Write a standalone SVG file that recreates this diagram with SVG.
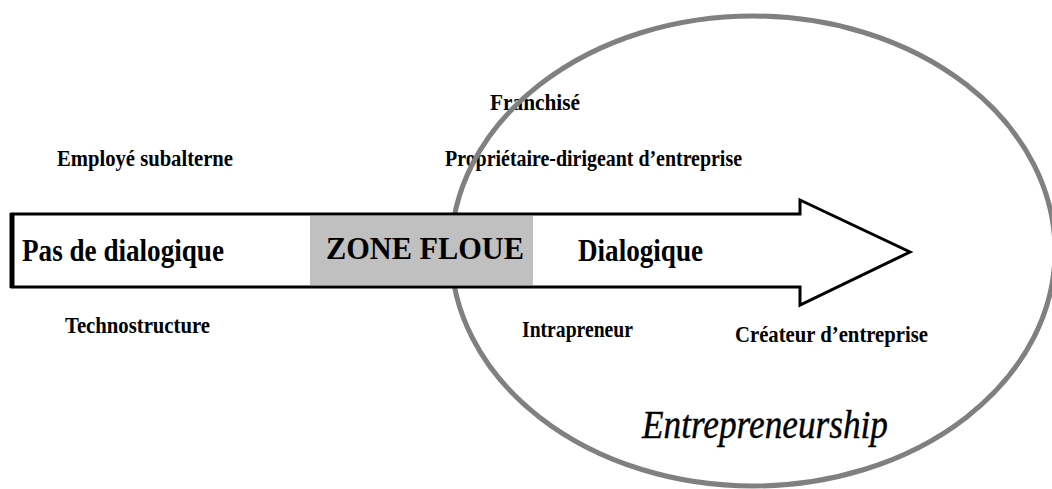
<svg xmlns="http://www.w3.org/2000/svg" width="1052" height="489" viewBox="0 0 1052 489">
<style>
.lbl{font-family:"Liberation Serif","Times New Roman",serif;font-weight:bold;font-size:24px;fill:#000}
.big{font-family:"Liberation Serif","Times New Roman",serif;font-weight:bold;font-size:31px;fill:#000}
.ent{font-family:"Liberation Serif","Times New Roman",serif;font-style:italic;font-size:39px;fill:#000;stroke:#000;stroke-width:0.4}
</style>
<rect width="1052" height="489" fill="#fff"/>
<g id="labels">
<text class="lbl" x="490" y="110" textLength="90" lengthAdjust="spacingAndGlyphs">Franchisé</text>
<text class="lbl" x="445" y="166" textLength="297" lengthAdjust="spacingAndGlyphs">Propriétaire-dirigeant d’entreprise</text>
<text class="lbl" x="57" y="166" textLength="176" lengthAdjust="spacingAndGlyphs">Employé subalterne</text>
<text class="lbl" x="65" y="333" textLength="145" lengthAdjust="spacingAndGlyphs">Technostructure</text>
<text class="lbl" x="522" y="337" textLength="111" lengthAdjust="spacingAndGlyphs">Intrapreneur</text>
<text class="lbl" x="735" y="342" textLength="193" lengthAdjust="spacingAndGlyphs">Créateur d’entreprise</text>
</g>
<g id="entrepreneurship">
<ellipse cx="753" cy="251" rx="302" ry="235" fill="none" stroke="#808080" stroke-width="5"/>
<text class="ent" x="642" y="438" textLength="246" lengthAdjust="spacingAndGlyphs">Entrepreneurship</text>
</g>
<g id="arrow">
<path d="M12,214 L800,214 L800,200 L910,252 L800,305 L800,287 L12,287 Z" fill="#fff" stroke="#000" stroke-width="3" stroke-linejoin="miter"/>
<line x1="12" y1="213" x2="12" y2="288" stroke="#000" stroke-width="5"/>
<text class="big" x="22" y="261" textLength="202" lengthAdjust="spacingAndGlyphs">Pas de dialogique</text>
</g>
<g id="zone-floue">
<rect x="310" y="216" width="223" height="69" fill="#c0c0c0"/>
<text class="big" x="326" y="259" textLength="198" lengthAdjust="spacingAndGlyphs">ZONE FLOUE</text>
</g>
<g id="dialogique">
<text class="big" x="578" y="261" textLength="125" lengthAdjust="spacingAndGlyphs">Dialogique</text>
</g>
</svg>
